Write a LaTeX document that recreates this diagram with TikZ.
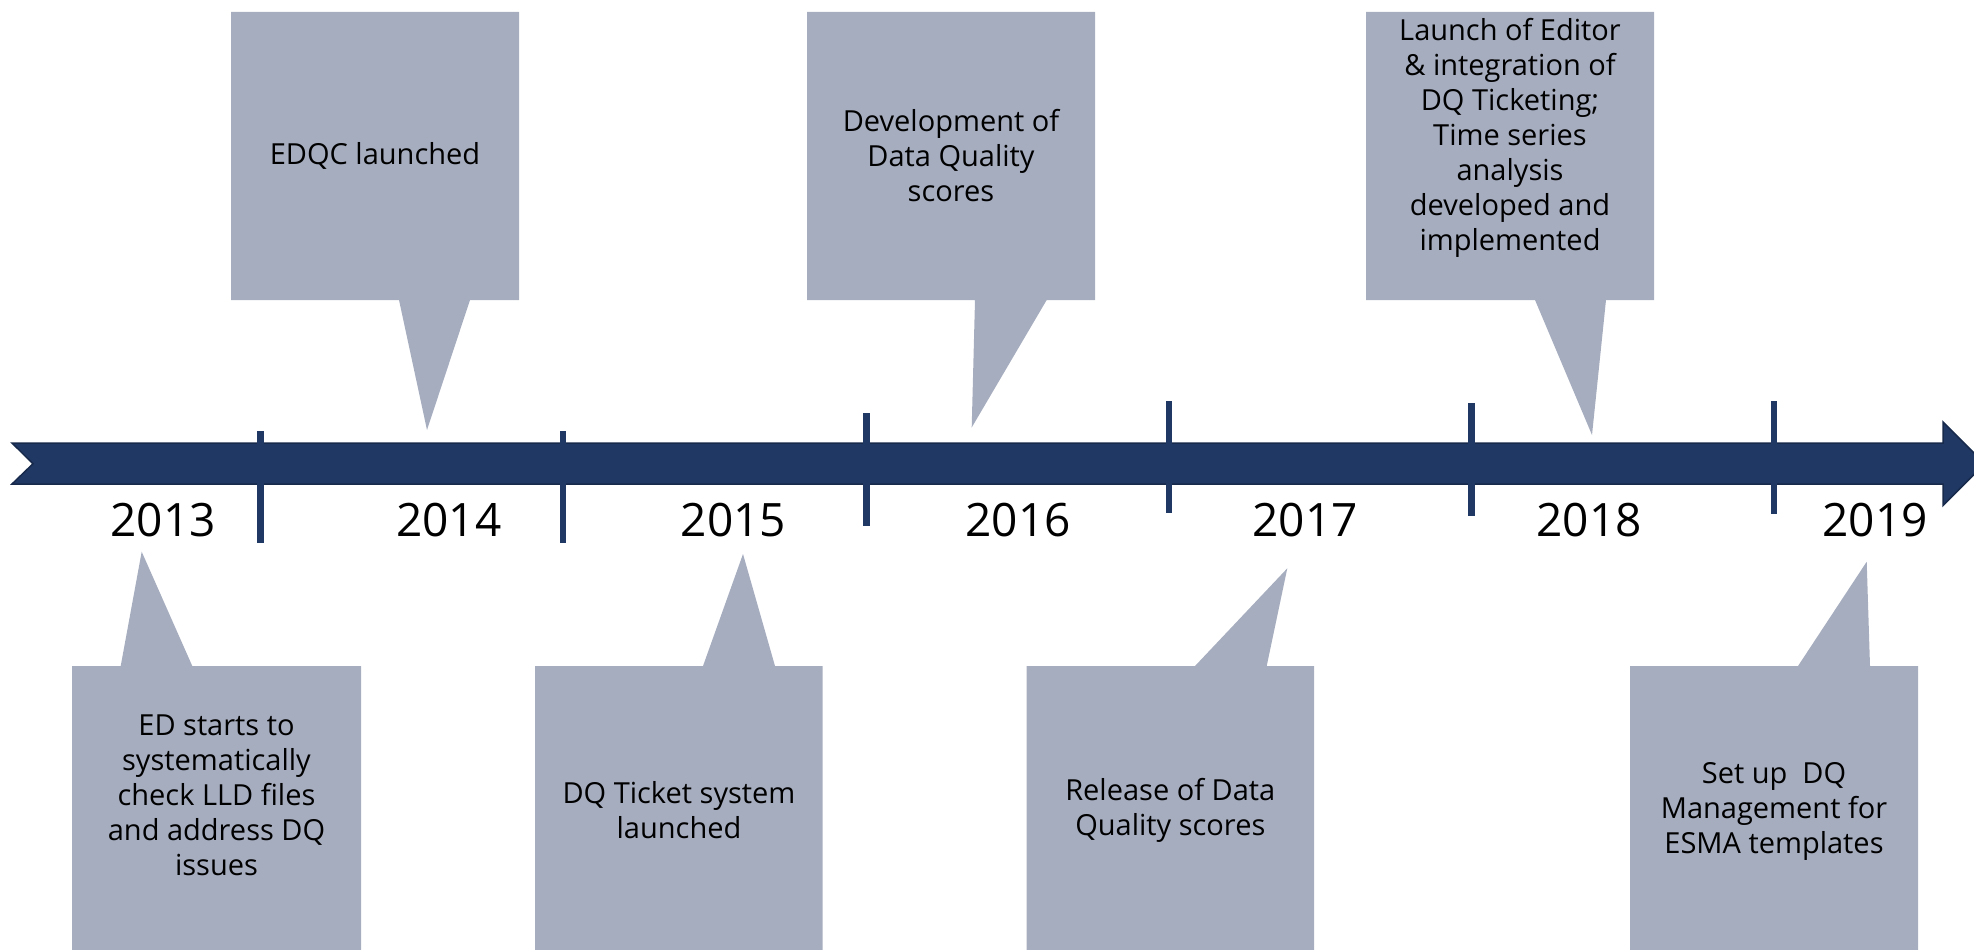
\documentclass[tikz,border=0pt]{standalone}
\usepackage{fontspec}
\setmainfont{Open Sans}
\definecolor{barblue}{RGB}{32,56,100}
\definecolor{baredge}{RGB}{24,42,76}
\definecolor{calloutgrey}{RGB}{166,173,191}
\tikzset{
  callout/.style={fill=calloutgrey},
  tickmark/.style={draw=barblue, line width=6.5pt},
  note/.style={font=\fontsize{29}{35}\selectfont, align=center, inner sep=0pt},
  yearlabel/.style={font=\fontsize{46}{55}\selectfont, inner sep=0pt},
}
\begin{document}
\begin{tikzpicture}[x=1pt, y=-1pt]
\useasboundingbox (0,0) rectangle (1974,950);
\clip (0,0) rectangle (1974,950);

% callouts above the time line
\fill[callout] (231,12) -- (519,12) -- (519,300) -- (470,300) -- (427,430) -- (399,300) -- (231,300) -- cycle;
\fill[callout] (807,12) -- (1095,12) -- (1095,300) -- (1046.7,300) -- (971.7,427.5) -- (975,300) -- (807,300) -- cycle;
\fill[callout] (1366,12) -- (1654,12) -- (1654,300) -- (1606,300) -- (1592,435) -- (1535,300) -- (1366,300) -- cycle;

% callouts below the time line
\fill[callout] (72,666) -- (120.7,666) -- (141.7,551.7) -- (192.3,666) -- (361,666) -- (361,960) -- (72,960) -- cycle;
\fill[callout] (535,666) -- (703,666) -- (743,554) -- (775,666) -- (822.7,666) -- (822.7,960) -- (535,960) -- cycle;
\fill[callout] (1026.7,666) -- (1195,666) -- (1287.3,568.3) -- (1266.7,666) -- (1314,666) -- (1314,960) -- (1026.7,960) -- cycle;
\fill[callout] (1630,666) -- (1798,666) -- (1866.7,561.7) -- (1870,666) -- (1918,666) -- (1918,960) -- (1630,960) -- cycle;

% the time line arrow
\draw[fill=barblue, draw=baredge, line width=1.5pt, line join=miter]
  (12,443) -- (1943,443) -- (1943,422) -- (1984.75,463.75) -- (1943,505.5)
  -- (1943,484) -- (12,484) -- (33,463.75) -- cycle;

% year separators
\draw[tickmark] (260.5,431) -- (260.5,543);
\draw[tickmark] (563,431) -- (563,543);
\draw[tickmark] (866.5,413) -- (866.5,526);
\draw[tickmark] (1169,401) -- (1169,513);
\draw[tickmark] (1471.5,403) -- (1471.5,516);
\draw[tickmark] (1774,401) -- (1774,513.5);

% years
\node[yearlabel] (y2013) at (163,520) {2013};
\node[yearlabel] (y2014) at (448.7,520) {2014};
\node[yearlabel] (y2015) at (733.5,520) {2015};
\node[yearlabel] (y2016) at (1018,520) {2016};
\node[yearlabel] (y2017) at (1305,520) {2017};
\node[yearlabel] (y2018) at (1589,520) {2018};
\node[yearlabel] (y2019) at (1875,520) {2019};

% milestone texts
\node[note] (edqc) at (375,156) {EDQC launched};
\node[note] (dqdev) at (951,156) {Development of\\Data Quality\\scores};
\node[note] (editor) at (1510,138) {Launch of Editor\\\& integration of\\DQ Ticketing;\\Time series\\analysis\\developed and\\implemented};
\node[note] (edstart) at (216.5,795) {ED starts to\\systematically\\check LLD files\\and address DQ\\issues};
\node[note] (ticket) at (679,810) {DQ Ticket system\\launched};
\node[note] (release) at (1170.3,810) {Release of Data\\Quality scores};
\node[note] (esma) at (1774,811) {Set up\ \ DQ\\Management for\\ESMA templates};
\end{tikzpicture}
\end{document}
